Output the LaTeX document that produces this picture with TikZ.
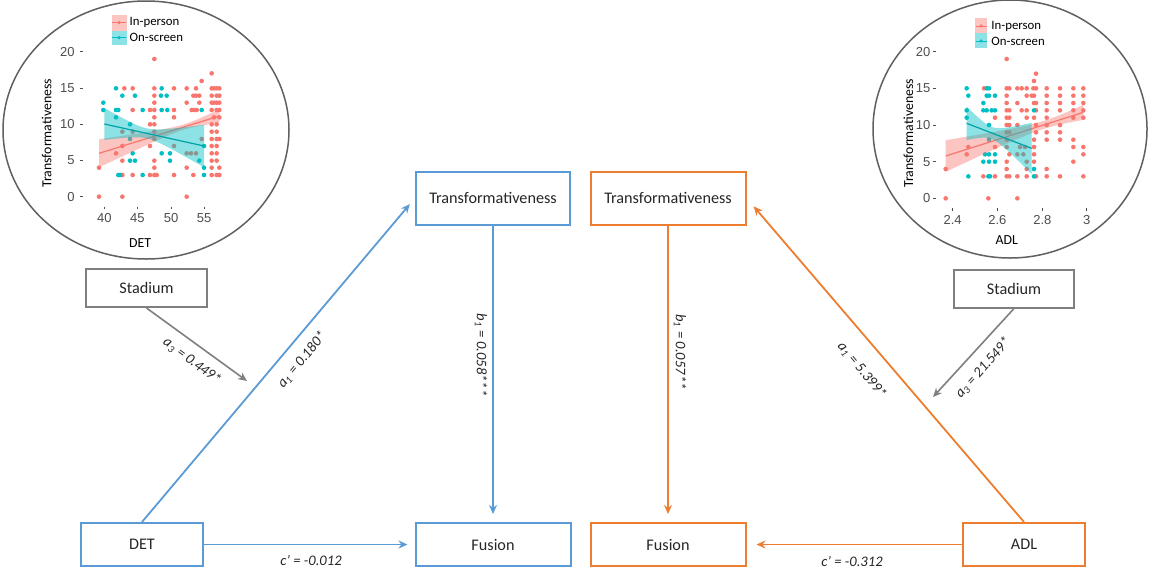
\documentclass[tikz,border=0pt]{standalone}
\usepackage{fontspec}
\setmainfont{Carlito}
\newfontfamily\tickfont{Liberation Sans}
\usetikzlibrary{arrows.meta}
\definecolor{boxblue}{HTML}{5B9BD5}
\definecolor{boxorange}{HTML}{ED7D31}
\definecolor{boxgray}{HTML}{7F7F7F}
\definecolor{inp}{HTML}{F8766D}
\definecolor{ons}{HTML}{00BFC4}
\definecolor{ringgray}{HTML}{606060}
\definecolor{tickgray}{HTML}{4D4D4D}
\begin{document}
\begin{tikzpicture}[x=0.5pt,y=-0.5pt,
  box/.style={draw, line width=1pt, fill=white, inner sep=0pt, font=\fontsize{8.1}{9}\selectfont, text=black!85},
  conn/.style={line width=0.9pt, -{Stealth[length=4.5pt,width=4pt]}},
  lab/.style={font=\fontsize{7.3}{8}\selectfont\itshape, inner sep=0pt, text=black!85},
  ring/.style={draw=ringgray, line width=0.75pt, fill=white},
  ticklab/.style={font=\tickfont\fontsize{6.5}{7}\selectfont, text=tickgray, inner sep=0pt},
  axtitle/.style={font=\fontsize{6.9}{8}\selectfont, inner sep=0pt},
  legtext/.style={font=\fontsize{6.4}{7}\selectfont, inner sep=0pt, anchor=west},
  tickmark/.style={draw=tickgray, line width=0.35pt},
  dotr/.style={fill=inp},
  dott/.style={fill=ons}]
\useasboundingbox (0,0) rectangle (1149,568);

% ================= left circle with DET plot =================
\draw[ring] (146,130) ellipse [x radius=71.5pt, y radius=64.5pt];
\begin{scope}[shift={(60,40)}, x=0.1666667pt, y=-0.1666667pt]
  % red points
  \foreach \py/\xs in {145/{193,218,283,342,380,408,455,462,470,478},
      167/{283,400,408,418,455,470,478},
      188/{283,380,418,455,462,470,478},
      210/{218,270,283,342,395,403,410,455,470,478},
      232/{283,342,462,478},
      253/{270,283,455,470},
      275/{187,218,283,455,470},
      297/{283,425,455,470,478},
      318/{187,270,342,455,470},
      340/{168,380,393,408,455,470},
      362/{187,283,455,470},
      383/{117,283,380,455,478},
      405/{187,218,270,283,290,342,400,455,470,478},
      470/{117,187,380},
      57/{283}, 100/{455}, 123/{425}}
    {\foreach \px in \xs {\fill[dotr] (\px,\py) circle[radius=1.15pt];}}
  % teal points
  \foreach \py/\xs in {145/{168,305},
      167/{187,225,303,320},
      188/{130},
      210/{130,168,175,248,305,322,425},
      232/{168},
      253/{210},
      297/{210},
      318/{432},
      340/{218,305,330},
      362/{210,225,330,418},
      383/{432},
      405/{175,180,248,432}}
    {\foreach \px in \xs {\fill[dott] (\px,\py) circle[radius=1.15pt];}}
  % ribbons
  \fill[inp, opacity=0.42] plot[domain=117:478, samples=40] (\x, {340-0.31025*(\x-117) - sqrt(64+265.6*((\x-370)/100)*((\x-370)/100))})
     -- plot[domain=478:117, samples=40] (\x, {340-0.31025*(\x-117) + sqrt(64+265.6*((\x-370)/100)*((\x-370)/100))}) -- cycle;
  \draw[inp, line width=0.6pt] (117,340) -- (478,228);
  \fill[ons, opacity=0.45] plot[domain=133:432, samples=40] (\x, {252+0.22074*(\x-133) - sqrt(225+1290*((\x-260)/100)*((\x-260)/100))})
     -- plot[domain=432:133, samples=40] (\x, {252+0.22074*(\x-133) + sqrt(225+1290*((\x-260)/100)*((\x-260)/100))}) -- cycle;
  \draw[ons!85!black, line width=0.6pt] (133,252) -- (432,318);
  % axes ticks
  \foreach \v/\yy in {0/470,5/361.25,10/252.5,15/143.75,20/35}
    {\draw[tickmark] (60,\yy) -- (68,\yy);
     \node[ticklab, anchor=east] (ytL\v) at (45,\yy) {\v};}
  \foreach \u/\xx in {40/133,45/232,50/333,55/432}
    {\draw[tickmark] (\xx,500) -- (\xx,508);
     \node[ticklab] (xtL\u) at (\xx,535) {\u};}
  \node[axtitle, rotate=90] (ytitleL) at (-40,280) {Transformativeness};
  \node[axtitle] (xtitleL) at (240,609) {DET};
  % legend
  \fill[inp, opacity=0.42] (155,-75) rectangle (200,-28);
  \fill[ons, opacity=0.45] (155,-28) rectangle (200,15);
  \draw[inp, line width=0.5pt] (157,-52) -- (198,-52);
  \fill[inp] (177.5,-52) circle[radius=0.9pt];
  \draw[ons, line width=0.5pt] (157,-7) -- (198,-7);
  \fill[ons] (177.5,-7) circle[radius=0.9pt];
  \node[legtext] (legL1) at (208,-52) {In-person};
  \node[legtext] (legL2) at (208,-7) {On-screen};
\end{scope}

% ================= right circle with ADL plot =================
\draw[ring] (1010,129) ellipse [x radius=68.5pt, y radius=64.5pt];
\begin{scope}[shift={(910,40)}, x=0.1666667pt, y=-0.1666667pt]
  \foreach \py/\xs in {57/{290}, 101/{378}, 123/{372},
      145/{222,290,298,322,335,350,370,378,410,450,490,520},
      167/{290,350,365,372,410,450,490,520},
      189/{290,322,372,378,410,450,490,520},
      211/{290,298,335,350,378,410,450,490,520},
      233/{255,290,298,350,372,410,490,520},
      255/{290,298,322,378,410,450},
      277/{290,298,378,410,450},
      299/{290,372,410,450,490},
      321/{175,255,290,330,345,372,490,520},
      343/{170,298,322,340,372,520},
      365/{290,350,372,490},
      387/{107,290,350,410},
      409/{220,255,290,298,322,350,378,410,450,520},
      475/{107,235,322}}
    {\foreach \px in \xs {\fill[dotr] (\px,\py) circle[radius=1.15pt];}}
  \foreach \py/\xs in {145/{170,230,237},
      167/{175,230,237,255},
      189/{220},
      211/{170,220,230,245,255,372},
      233/{170},
      255/{237},
      299/{237},
      343/{225,237,255},
      365/{220,237,255},
      387/{372},
      409/{175,235,240,372}}
    {\foreach \px in \xs {\fill[dott] (\px,\py) circle[radius=1.15pt];}}
  \fill[inp, opacity=0.42] plot[domain=107:520, samples=40] (\x, {348-0.31719*(\x-107) - sqrt(144+246*((\x-400)/100)*((\x-400)/100))})
     -- plot[domain=520:107, samples=40] (\x, {348-0.31719*(\x-107) + sqrt(144+246*((\x-400)/100)*((\x-400)/100))}) -- cycle;
  \draw[inp, line width=0.6pt] (107,348) -- (520,217);
  \fill[ons, opacity=0.45] plot[domain=170:365, samples=40] (\x, {250+0.38462*(\x-170) - sqrt(324+3870*((\x-245)/100)*((\x-245)/100))})
     -- plot[domain=365:170, samples=40] (\x, {250+0.38462*(\x-170) + sqrt(324+3870*((\x-245)/100)*((\x-245)/100))}) -- cycle;
  \draw[ons!85!black, line width=0.6pt] (170,250) -- (365,325);
  \foreach \v/\yy in {0/475,5/365,10/255,15/145,20/35}
    {\draw[tickmark] (70,\yy) -- (78,\yy);
     \node[ticklab, anchor=east] (ytR\v) at (62,\yy) {\v};}
  \foreach \u/\xx in {2.4/128,2.6/262,2.8/397,3/530}
    {\draw[tickmark] (\xx,505) -- (\xx,512);
     \node[ticklab] at (\xx,540) {\u};}
  \node[axtitle, rotate=90] (ytitleR) at (-5,280) {Transformativeness};
  \node[axtitle] (xtitleR) at (290,600) {ADL};
  \fill[inp, opacity=0.42] (195,-65) rectangle (232,-20);
  \fill[ons, opacity=0.45] (195,-20) rectangle (232,25);
  \draw[inp, line width=0.5pt] (197,-42) -- (230,-42);
  \fill[inp] (213.5,-42) circle[radius=0.9pt];
  \draw[ons, line width=0.5pt] (197,3) -- (230,3);
  \fill[ons] (213.5,3) circle[radius=0.9pt];
  \node[legtext] (legR1) at (243,-42) {In-person};
  \node[legtext] (legR2) at (243,3) {On-screen};
\end{scope}

% ================= boxes =================
\node[box, draw=boxgray, minimum width=60.5pt, minimum height=19pt] (stadL) at (146.5,288) {Stadium};
\node[box, draw=boxgray, minimum width=60pt, minimum height=19pt] (stadR) at (1014,288.5) {Stadium};
\node[box, draw=boxblue, minimum width=77pt, minimum height=26.5pt] (transL) at (493,198) {Transformativeness};
\node[box, draw=boxorange, minimum width=77.5pt, minimum height=26.5pt] (transR) at (668,198) {Transformativeness};
\node[box, draw=boxblue, minimum width=61pt, minimum height=21.5pt] (det) at (142,544.5) {DET};
\node[box, draw=boxblue, minimum width=77.5pt, minimum height=21.5pt] (fusL) at (493,544.5) {Fusion};
\node[box, draw=boxorange, minimum width=77.5pt, minimum height=21.5pt] (fusR) at (668,544.5) {Fusion};
\node[box, draw=boxorange, minimum width=61pt, minimum height=21.5pt] (adl) at (1024,544.5) {ADL};

\coordinate (a3Lend) at (247,381);
\coordinate (a3Rend) at (933,397);

% ================= connectors =================
\draw[conn, boxblue, shorten >=4pt] (det.north) -- (transL.west);
\draw[conn, boxblue, shorten >=4pt] (transL.south) -- (fusL.north);
\draw[conn, boxblue, shorten >=3.5pt] (det.east) -- (fusL.west);
\draw[conn, boxorange, shorten >=5.5pt] (adl.north) -- (transR.east);
\draw[conn, boxorange, shorten >=4pt] (transR.south) -- (fusR.north);
\draw[conn, boxorange, shorten >=5pt] (adl.west) -- (fusR.east);
\draw[conn, boxgray, line width=0.8pt] (stadL.south) -- (a3Lend);
\draw[conn, boxgray, line width=0.8pt] (stadR.south) -- (a3Rend);

% ================= labels =================
\node[lab, rotate=50.5] (la1L) at (302,360) {a\textsubscript{1} = 0.180*};
\node[lab, rotate=-36.8] (la3L) at (192,361) {a\textsubscript{3} = 0.449*};
\node[lab, rotate=-90] (lb1L) at (481,355) {b\textsubscript{1} = 0.058***};
\node[lab, rotate=-90] (lb1R) at (680,352) {b\textsubscript{1} = 0.057**};
\node[lab, rotate=-50.7] (la1R) at (862,370) {a\textsubscript{1} = 5.399*};
\node[lab, rotate=48.4] (la3R) at (983,368) {a\textsubscript{3} = 21.549*};
\node[lab] (lcL) at (311,560) {c’ = -0.012};
\node[lab] (lcR) at (852,561) {c’ = -0.312};
\end{tikzpicture}
\end{document}
